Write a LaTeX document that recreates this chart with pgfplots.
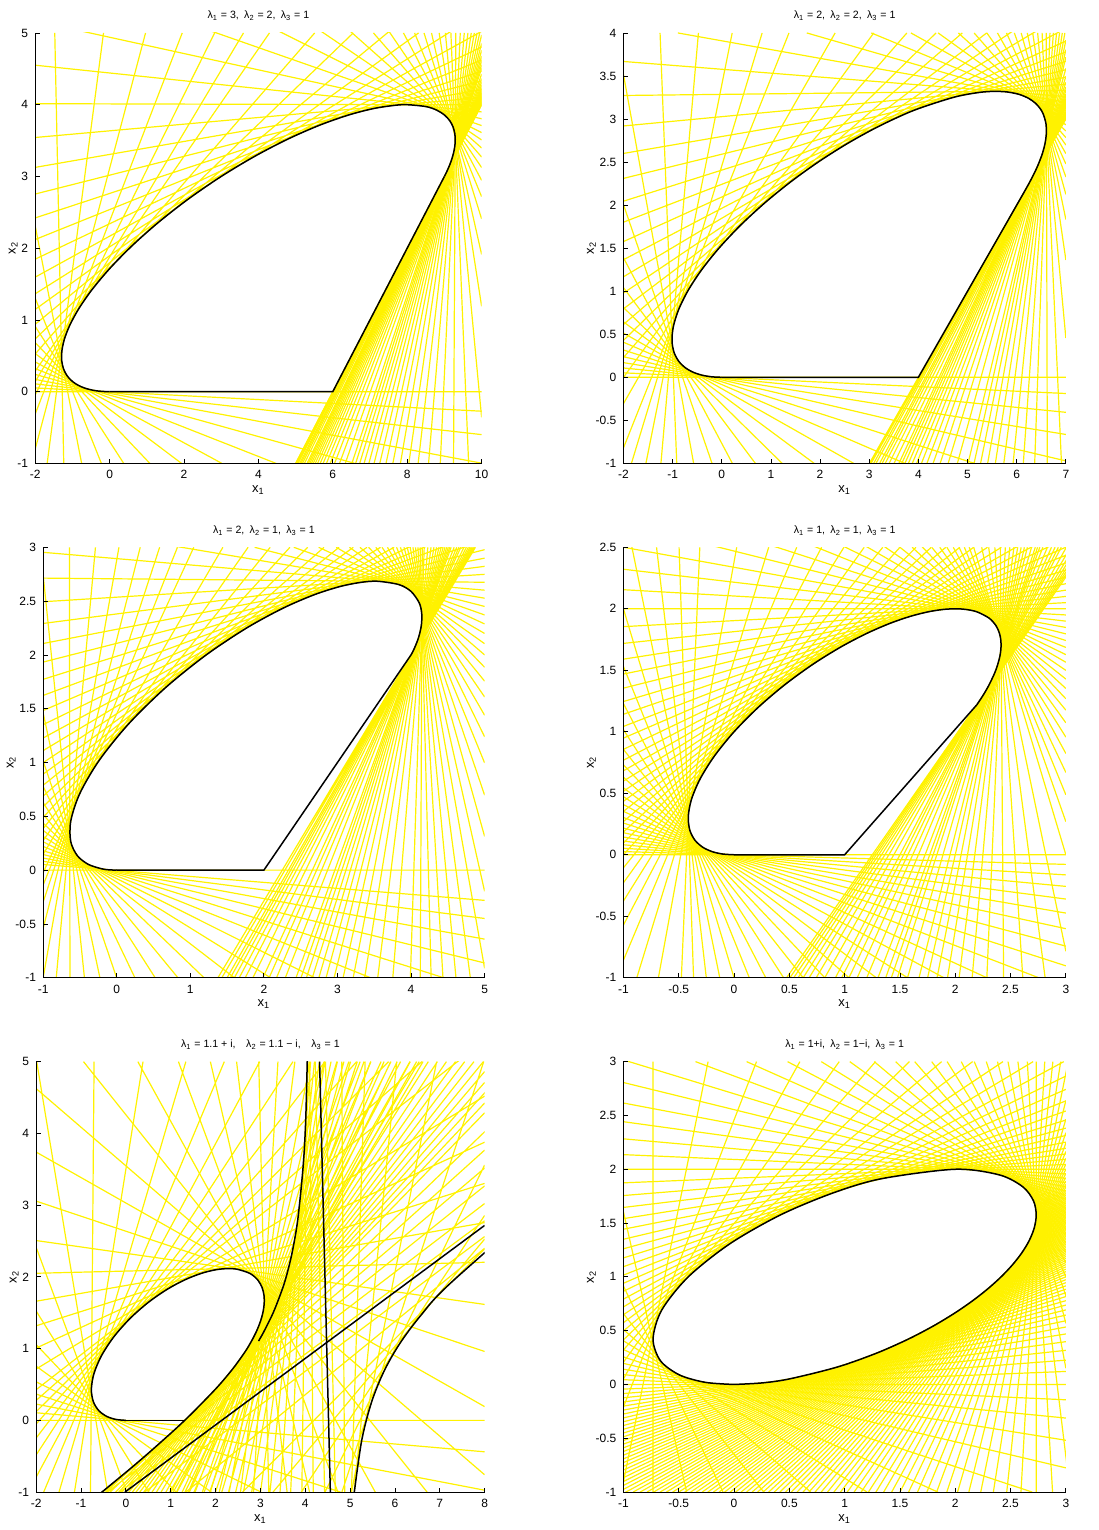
\documentclass[border=0pt]{standalone}
\usepackage{fontspec}
\setmainfont{Liberation Sans}
\usepackage{pgfplots}
\pgfplotsset{compat=1.18}

\pgfplotsset{
  panel/.style={
    anchor=south west, scale only axis, height=215.5pt,
    axis on top, clip=true,
    axis x line*=bottom, axis y line*=left,
    axis line style={black, line width=0.5pt},
    tick align=inside, major tick length=2.2pt,
    tick style={black, line width=0.4pt},
    tick label style={font=\fontsize{6}{7}\selectfont},
    /pgf/number format/assume math mode=true,
    label style={font=\fontsize{6.5}{7}\selectfont},
    title style={font=\fontsize{5.3}{6.5}\selectfont, yshift=-3.5pt},
    xlabel style={yshift=3.5pt},
    ylabel style={yshift=-7pt},
    unbounded coords=jump,
    xlabel={x\textsubscript{1}}, ylabel={x\textsubscript{2}},
  },
  fan/.style={yellow, line width=0.6pt},
  env/.style={black, line width=0.75pt},
}

\begin{document}
\begin{tikzpicture}
\path (0,0) rectangle (549.5pt,765pt);

% ---------------- lambda = 3, 2, 1 ----------------
\begin{axis}[panel, at={(17pt,533pt)}, width=223.5pt,
  xmin=-2, xmax=10, ymin=-1, ymax=5,
  xtick={-2,0,...,10}, ytick={-1,0,...,5},
  title={λ\textsubscript{1} = 3,\enspace λ\textsubscript{2} = 2,\enspace λ\textsubscript{3} = 1}]
\addplot[fan] coordinates {
(-2,0) (10,0) (nan,nan)
(-2,0.1086) (10,-0.5988) (nan,nan)
(-2,0.2407) (6.592,-1) (nan,nan)
(-2,0.4149) (3.0188,-1) (nan,nan)
(-2,0.6848) (1.0831,-1) (nan,nan)
(-2,1.3034) (-0.2206,-1) (nan,nan)
(-1.2318,-1) (-1.4735,5) (nan,nan)
(-2.1018,-1) (0.9664,5) (nan,nan)
(-2.9125,-1) (2.8229,5) (nan,nan)
(-2,0.2857) (4.2974,5) (nan,nan)
(-2,0.5245) (5.5128,5) (nan,nan)
(-2,0.7349) (6.5494,5) (nan,nan)
(-2,0.9387) (10,6.0876) (nan,nan)
(-2,1.1463) (8.3051,5) (nan,nan)
(-2,1.3639) (10,5.2915) (nan,nan)
(-2,1.5961) (10,5.0225) (nan,nan)
(-2,1.847) (10,4.8044) (nan,nan)
(-2,2.1207) (10,4.6226) (nan,nan)
(-2,2.4216) (10,4.4671) (nan,nan)
(-2,2.7547) (10,4.3315) (nan,nan)
(-2,3.1261) (10,4.2103) (nan,nan)
(-2,4.0139) (10,3.9972) (nan,nan)
(-2,5.1674) (10,3.8042) (nan,nan)
(-2,6.7228) (10,3.6115) (nan,nan)
(-2,8.9257) (10,3.3968) (nan,nan)
(-2,12.271) (10,3.1243) (nan,nan)
(8.199,5) (10,2.7176) (nan,nan)
(8.6534,5) (10,1.9128) (nan,nan)
(9.0262,5) (10,-0.3582) (nan,nan)
(9.2454,-1) (9.3067,5) (nan,nan)
(8.5741,-1) (9.534,5) (nan,nan)
(8.043,-1) (9.7216,5) (nan,nan)
(7.6142,-1) (9.879,5) (nan,nan)
(7.2622,-1) (10,4.9723) (nan,nan)
(6.9693,-1) (10,4.7582) (nan,nan)
(6.723,-1) (10,4.6126) (nan,nan)
(6.5138,-1) (10,4.5069) (nan,nan)
(6.1804,-1) (10,4.3637) (nan,nan)
(5.9303,-1) (10,4.2714) (nan,nan)
(5.7391,-1) (10,4.2077) (nan,nan)
(5.5908,-1) (10,4.1617) (nan,nan)
(5.4745,-1) (10,4.1273) (nan,nan)
(5.3826,-1) (10,4.1011) (nan,nan)
(5.3094,-1) (10,4.0809) (nan,nan)
(5.1836,-1) (10,4.0471) (nan,nan)
(5.1099,-1) (10,4.0279) (nan,nan)
(5.0399,-1) (10,4.01) (nan,nan)
(5.0054,-1) (10,4.0013)
};
\addplot[fan] coordinates {
(-2,0.052) (10,-0.2725) (nan,nan)
(-2,0.1709) (10,-0.9966) (nan,nan)
(-2,0.3206) (4.4755,-1) (nan,nan)
(-2,0.5313) (1.9359,-1) (nan,nan)
(-2,0.9095) (0.3804,-1) (nan,nan)
(-2,2.3112) (-0.7509,-1) (nan,nan)
(-1.6784,-1) (-0.1634,5) (nan,nan)
(-2,-0.3133) (1.9524,5) (nan,nan)
(-2,0.1397) (3.599,5) (nan,nan)
(-2,3.5428) (10,4.1) (nan,nan)
(-2,4.5506) (10,3.8995) (nan,nan)
(-2,5.883) (10,3.709) (nan,nan)
(-2,7.721) (10,3.5086) (nan,nan)
(7.0926,5) (10,3.271) (nan,nan)
(7.8999,5) (10,2.9458) (nan,nan)
(8.4522,5) (10,2.4074) (nan,nan)
(8.8593,5) (10,1.1902) (nan,nan)
(9.1742,5) (9.651,-1) (nan,nan)
(8.889,-1) (9.426,5) (nan,nan)
(8.2938,-1) (9.6321,5) (nan,nan)
(7.8176,-1) (9.8036,5) (nan,nan)
(7.4299,-1) (9.9485,5) (nan,nan)
(7.1093,-1) (10,4.854) (nan,nan)
(6.841,-1) (10,4.6791) (nan,nan)
(6.6142,-1) (10,4.5559) (nan,nan)
(6.3347,-1) (10,4.4267) (nan,nan)
(6.0468,-1) (10,4.3131) (nan,nan)
(5.8285,-1) (10,4.2369) (nan,nan)
(5.6604,-1) (10,4.1829) (nan,nan)
(5.5292,-1) (10,4.1433) (nan,nan)
(5.4259,-1) (10,4.1133) (nan,nan)
(5.3439,-1) (10,4.0903) (nan,nan)
(5.238,-1) (10,4.0615) (nan,nan)
(5.142,-1) (10,4.0362) (nan,nan)
(5.0662,-1) (10,4.0167) (nan,nan)
(5.0147,-1) (10,4.0037) (nan,nan)
(5.0002,-1) (10,4.0001)
};
\addplot[env, smooth] coordinates {
(0,0) (-0.1211,0.0013) (-0.3061,0.0087) (-0.4617,0.0213) (-0.6164,0.0411)
(-0.7674,0.0698) (-0.9109,0.1093) (-1.0419,0.1621) (-1.1538,0.2308) (-1.2385,0.3185)
(-1.2857,0.4286) (-1.283,0.5645) (-1.2162,0.7297) (-1.0695,0.9269) (-0.8268,1.1575)
(-0.4737,1.4211) (0,1.7143) (0.5972,2.0304) (1.3107,2.3592) (2.1216,2.6873) (3,3)
(3.9082,3.2829) (4.8058,3.5243) (5.6557,3.7166) (6.4286,3.8571) (7.1053,3.9474)
(7.677,3.992) (8,4) (8.5135,3.973) (8.7947,3.9238) (9.0,3.857) (9.1416,3.7785)
(9.2308,3.6923) (9.2779,3.602) (9.2915,3.5101) (9.2791,3.4186) (9.2466,3.3288)
(9.1989,3.2415) (9.1399,3.1574) (9.0728,3.0769) (9,3)
};
\addplot[env] coordinates {(9,3) (6,0) (0,0)};
\end{axis}

% ---------------- lambda = 2, 2, 1 ----------------
\begin{axis}[panel, at={(311.5pt,533pt)}, width=221.5pt,
  xmin=-2, xmax=7, ymin=-1, ymax=4,
  xtick={-2,-1,...,7}, ytick={-1,-0.5,...,4},
  title={λ\textsubscript{1} = 2,\enspace λ\textsubscript{2} = 2,\enspace λ\textsubscript{3} = 1}]
\addplot[fan] coordinates {
(-2,0) (7,0) (nan,nan)
(-2,0.1085) (7,-0.4067) (nan,nan)
(-2,0.2396) (7,-0.9707) (nan,nan)
(-2,0.4076) (3.7238,-1) (nan,nan)
(-2,0.6445) (1.8802,-1) (nan,nan)
(-2,1.0416) (0.6849,-1) (nan,nan)
(-2,2.0075) (-0.1982,-1) (nan,nan)
(-0.9155,-1) (-1.2549,4) (nan,nan)
(-1.5429,-1) (0.2122,4) (nan,nan)
(-2,-0.8206) (1.3673,4) (nan,nan)
(-2,-0.3065) (2.3066,4) (nan,nan)
(-2,-0.0011) (3.092,4) (nan,nan)
(-2,0.2296) (3.7659,4) (nan,nan)
(-2,0.4284) (4.3585,4) (nan,nan)
(-2,0.6137) (4.8932,4) (nan,nan)
(-2,0.795) (5.3891,4) (nan,nan)
(-2,0.9782) (7,4.4367) (nan,nan)
(-2,1.1674) (7,4.226) (nan,nan)
(-2,1.3658) (7,4.0523) (nan,nan)
(-2,1.5765) (7,3.9059) (nan,nan)
(-2,1.802) (7,3.7802) (nan,nan)
(-2,2.3105) (7,3.5731) (nan,nan)
(-2,2.9196) (7,3.4054) (nan,nan)
(-2,3.6687) (7,3.2613) (nan,nan)
(1.7303,4) (7,3.1295) (nan,nan)
(3.848,4) (7,3.0) (nan,nan)
(4.8129,4) (7,2.8618) (nan,nan)
(5.3927,4) (7,2.6983) (nan,nan)
(5.7925,4) (7,2.4784) (nan,nan)
(6.0911,4) (7,2.1249) (nan,nan)
(6.3257,4) (7,1.3632) (nan,nan)
(6.9108,-1) (6.5166,4) (nan,nan)
(6.3656,-1) (6.6758,4) (nan,nan)
(5.9263,-1) (6.8112,4) (nan,nan)
(5.5655,-1) (6.9278,4) (nan,nan)
(5.2645,-1) (7,3.9164) (nan,nan)
(5.01,-1) (7,3.7181) (nan,nan)
(4.6049,-1) (7,3.4958) (nan,nan)
(4.2991,-1) (7,3.371) (nan,nan)
(4.0623,-1) (7,3.2898) (nan,nan)
(3.8753,-1) (7,3.2322) (nan,nan)
(3.7254,-1) (7,3.1892) (nan,nan)
(3.6039,-1) (7,3.1559) (nan,nan)
(3.5044,-1) (7,3.1296) (nan,nan)
(3.3249,-1) (7,3.0833) (nan,nan)
(3.211,-1) (7,3.0545) (nan,nan)
(3.0897,-1) (7,3.0237) (nan,nan)
(3.0379,-1) (7,3.0103) (nan,nan)
(3.0158,-1) (7,3.0044)
};
\addplot[fan] coordinates {
(-2,0.052) (7,-0.1881) (nan,nan)
(-2,0.1706) (7,-0.6638) (nan,nan)
(-2,0.3176) (5.1395,-1) (nan,nan)
(-2,0.514) (2.6851,-1) (nan,nan)
(-2,0.8119) (1.2294,-1) (nan,nan)
(-2,1.3892) (0.2159,-1) (nan,nan)
(-2,3.5202) (-0.5718,-1) (nan,nan)
(-1.2372,-1) (-0.4744,4) (nan,nan)
(-1.8376,-1) (0.8217,4) (nan,nan)
(-2,2.0456) (7,3.6705) (nan,nan)
(-2,2.6003) (7,3.4855) (nan,nan)
(-2,3.2736) (7,3.3312) (nan,nan)
(-0.8929,4) (7,3.1945) (nan,nan)
(3.0429,4) (7,3.0651) (nan,nan)
(4.4022,4) (7,2.9328) (nan,nan)
(5.1333,4) (7,2.7846) (nan,nan)
(5.6088,4) (7,2.5985) (nan,nan)
(5.9516,4) (7,2.327) (nan,nan)
(6.2149,4) (7,1.8331) (nan,nan)
(6.4257,4) (7,0.4544) (nan,nan)
(6.6228,-1) (6.5996,4) (nan,nan)
(6.1346,-1) (6.7462,4) (nan,nan)
(5.7374,-1) (6.8716,4) (nan,nan)
(5.4084,-1) (6.9804,4) (nan,nan)
(5.1321,-1) (7,3.8054) (nan,nan)
(4.7925,-1) (7,3.5883) (nan,nan)
(4.4419,-1) (7,3.4259) (nan,nan)
(4.1735,-1) (7,3.3266) (nan,nan)
(3.9635,-1) (7,3.2588) (nan,nan)
(3.7963,-1) (7,3.2093) (nan,nan)
(3.6616,-1) (7,3.1716) (nan,nan)
(3.4042,-1) (7,3.1035) (nan,nan)
(3.2617,-1) (7,3.0673) (nan,nan)
(3.1375,-1) (7,3.036) (nan,nan)
(3.0027,-1) (7,3.0008)
};
\addplot[env, smooth] coordinates {
(0,0) (-0.1993,0.0054) (-0.3937,0.0236) (-0.5771,0.0577) (-0.7413,0.111)
(-0.8764,0.1873) (-0.971,0.2899) (-1.012,0.4217) (-0.9867,0.5844) (-0.8833,0.778)
(-0.6935,1.0) (-0.4139,1.2452) (-0.0481,1.506) (0.3935,1.7728) (0.8939,2.0354)
(1.4324,2.2838) (1.9865,2.5101) (2.5354,2.7087) (3.0616,2.8767) (3.5525,3.0136)
(4.0,3.1208) (4.7526,3.2578) (5.3228,3.3149) (5.7388,3.3184) (6.0346,3.2889)
(6.2409,3.2409) (6.3819,3.1834) (6.4763,3.1225) (6.5372,3.0615) (6.5952,2.9464)
(6.6019,2.8214) (6.577,2.718) (6.5402,2.633) (6.5007,2.5629) (6.4267,2.456)
(6.3653,2.3798) (6.2769,2.2808) (6.1811,2.1814) (6.1176,2.1176)
};
\addplot[env] coordinates {(6.1176,2.1176) (4,0) (0,0)};
\end{axis}

% ---------------- lambda = 2, 1, 1 ----------------
\begin{axis}[panel, at={(21pt,275.5pt)}, width=221pt,
  xmin=-1, xmax=5, ymin=-1, ymax=3,
  xtick={-1,0,...,5}, ytick={-1,-0.5,...,3},
  title={λ\textsubscript{1} = 2,\enspace λ\textsubscript{2} = 1,\enspace λ\textsubscript{3} = 1}]
\addplot[fan] coordinates {
(-1,0) (5,0) (nan,nan)
(-1,0.0527) (5,-0.2809) (nan,nan)
(-1,0.1121) (5,-0.6413) (nan,nan)
(-1,0.1808) (4.4439,-1) (nan,nan)
(-1,0.2634) (2.6915,-1) (nan,nan)
(-1,0.3691) (1.5988,-1) (nan,nan)
(-1,0.5193) (0.8318,-1) (nan,nan)
(-1,0.7778) (0.2468,-1) (nan,nan)
(-1,1.4606) (-0.2289,-1) (nan,nan)
(-0.636,-1) (-0.6435,3) (nan,nan)
(-1.0,-1) (0.0299,3) (nan,nan)
(-1,-0.2968) (0.5832,3) (nan,nan)
(-1,-0.0232) (1.0472,3) (nan,nan)
(-1,0.1458) (1.4428,3) (nan,nan)
(-1,0.2753) (1.7854,3) (nan,nan)
(-1,0.3868) (2.0862,3) (nan,nan)
(-1,0.49) (2.3541,3) (nan,nan)
(-1,0.5897) (2.5958,3) (nan,nan)
(-1,0.6888) (2.8168,3) (nan,nan)
(-1,0.7891) (3.022,3) (nan,nan)
(-1,0.8922) (3.2155,3) (nan,nan)
(-1,1.1108) (3.585,3) (nan,nan)
(-1,1.352) (5,3.344) (nan,nan)
(-1,1.6235) (5,3.1478) (nan,nan)
(-1,1.9335) (5,2.9779) (nan,nan)
(-1,2.2923) (5,2.8231) (nan,nan)
(-1,2.7137) (5,2.6752) (nan,nan)
(-1,3.216) (5,2.527) (nan,nan)
(2.4058,3) (5,2.3712) (nan,nan)
(2.9827,3) (5,2.1993) (nan,nan)
(3.3055,3) (5,2.0) (nan,nan)
(3.5208,3) (5,1.7562) (nan,nan)
(3.6794,3) (5,1.4394) (nan,nan)
(3.8033,3) (5,0.9965) (nan,nan)
(3.9042,3) (5,0.3131) (nan,nan)
(3.9887,3) (5,-0.9127) (nan,nan)
(4.6109,-1) (4.061,3) (nan,nan)
(4.2732,-1) (4.1237,3) (nan,nan)
(3.9912,-1) (4.1789,3) (nan,nan)
(3.5472,-1) (4.2717,3) (nan,nan)
(3.2137,-1) (4.3469,3) (nan,nan)
(2.9543,-1) (4.4093,3) (nan,nan)
(2.747,-1) (4.4617,3) (nan,nan)
(2.5777,-1) (4.5064,3) (nan,nan)
(2.437,-1) (4.5449,3) (nan,nan)
(2.1718,-1) (4.6212,3) (nan,nan)
(1.9866,-1) (4.6771,3) (nan,nan)
(1.8505,-1) (4.7196,3) (nan,nan)
(1.7466,-1) (4.7528,3) (nan,nan)
(1.5991,-1) (4.8008,3) (nan,nan)
(1.4997,-1) (4.8336,3) (nan,nan)
(1.4285,-1) (4.8572,3) (nan,nan)
(1.375,-1) (4.875,3)
};
\addplot[fan] coordinates {
(-1,0.0815) (5,-0.4492) (nan,nan)
(-1,0.1451) (5,-0.8626) (nan,nan)
(-1,0.2199) (3.4494,-1) (nan,nan)
(-1,0.3124) (2.0904,-1) (nan,nan)
(-1,0.4364) (1.186,-1) (nan,nan)
(-1,0.6271) (0.5221,-1) (nan,nan)
(-1,1.0136) (-0.0017,-1) (nan,nan)
(-1,2.7425) (-0.4392,-1) (nan,nan)
(-0.8222,-1) (-0.2894,3) (nan,nan)
(-1,-0.5404) (0.3194,3) (nan,nan)
(-1,-0.1388) (0.8249,3) (nan,nan)
(-1,0.9991) (3.4018,3) (nan,nan)
(-1,1.2281) (3.7701,3) (nan,nan)
(-1,1.4835) (5,3.2418) (nan,nan)
(-1,1.7731) (5,3.0603) (nan,nan)
(-1,2.106) (5,2.8991) (nan,nan)
(-1,2.4941) (5,2.7487) (nan,nan)
(-1,2.9533) (5,2.6016) (nan,nan)
(1.8743,3) (5,2.4505) (nan,nan)
(2.744,3) (5,2.2879) (nan,nan)
(3.1628,3) (5,2.104) (nan,nan)
(3.4224,3) (5,1.8851) (nan,nan)
(3.6055,3) (5,1.6094) (nan,nan)
(3.7448,3) (5,1.2388) (nan,nan)
(3.8561,3) (5,0.6966) (nan,nan)
(3.9482,3) (5,-0.197) (nan,nan)
(4.806,-1) (4.0262,3) (nan,nan)
(4.4341,-1) (4.0934,3) (nan,nan)
(4.1261,-1) (4.1521,3) (nan,nan)
(3.7523,-1) (4.2278,3) (nan,nan)
(3.3695,-1) (4.3111,3) (nan,nan)
(3.0764,-1) (4.3795,3) (nan,nan)
(2.8452,-1) (4.4365,3) (nan,nan)
(2.6583,-1) (4.485,3) (nan,nan)
(2.5043,-1) (4.5264,3) (nan,nan)
(2.2916,-1) (4.5862,3) (nan,nan)
(2.0716,-1) (4.6512,3) (nan,nan)
(1.6649,-1) (4.7792,3) (nan,nan)
(1.5449,-1) (4.8187,3)
};
\addplot[env, smooth] coordinates {
(0,0) (-0.0998,0.0027) (-0.1981,0.0114) (-0.3827,0.0521) (-0.5342,0.133)
(-0.6254,0.2655) (-0.6245,0.4585) (-0.5008,0.7141) (-0.2362,1.0224) (0.1633,1.3606)
(0.6647,1.6968) (1.2156,2.0) (1.7616,2.2487) (2.2611,2.4347) (2.6907,2.5611)
(3.044,2.6373) (3.3251,2.6749) (3.5436,2.6845) (3.8367,2.6532) (4.0,2.5901)
(4.1116,2.4838) (4.1452,2.3873) (4.142,2.284) (4.1149,2.1915) (4.0859,2.1288)
(4.0433,2.0578) (4.0092,2.0111) (4.0007,2.0008)
};
\addplot[env] coordinates {(4.0007,2.0008) (2,0) (0,0)};
\end{axis}

% ---------------- lambda = 1, 1, 1 ----------------
\begin{axis}[panel, at={(311.5pt,275.5pt)}, width=221.5pt,
  xmin=-1, xmax=3, ymin=-1, ymax=2.5,
  xtick={-1,-0.5,...,3}, ytick={-1,-0.5,...,2.5},
  title={λ\textsubscript{1} = 1,\enspace λ\textsubscript{2} = 1,\enspace λ\textsubscript{3} = 1}]
\addplot[fan] coordinates {
(-1,0) (3,0) (nan,nan)
(-1,0.0527) (3,-0.1637) (nan,nan)
(-1,0.1118) (3,-0.3602) (nan,nan)
(-1,0.1793) (3,-0.6011) (nan,nan)
(-1,0.2581) (3,-0.9032) (nan,nan)
(-1,0.3529) (3,-1.2941) (nan,nan)
(-1,0.4719) (3,-1.8202) (nan,nan)
(-1,0.6298) (1.039,-1) (nan,nan)
(-1,0.8571) (0.625,-1) (nan,nan)
(-1,1.2298) (0.2867,-1) (nan,nan)
(-1,2.0) (0,-1) (nan,nan)
(-0.7006,2.5) (-0.2508,-1) (nan,nan)
(-0.4762,-1) (-0.3095,2.5) (nan,nan)
(-0.6838,-1) (0.0242,2.5) (nan,nan)
(-0.8791,-1) (0.3132,2.5) (nan,nan)
(-1,-0.8571) (0.5667,2.5) (nan,nan)
(-1,-0.5714) (0.7917,2.5) (nan,nan)
(-1,-0.3764) (0.9936,2.5) (nan,nan)
(-1,-0.2278) (1.1768,2.5) (nan,nan)
(-1,-0.1058) (1.3446,2.5) (nan,nan)
(-1,0) (1.5,2.5) (nan,nan)
(-1,0.1849) (1.7828,2.5) (nan,nan)
(-1,0.3529) (2.0417,2.5) (nan,nan)
(-1,0.5166) (2.2912,2.5) (nan,nan)
(-1,0.6829) (3,2.7317) (nan,nan)
(-1,0.8571) (3,2.5714) (nan,nan)
(-1,1.0435) (3,2.4348) (nan,nan)
(-1,1.2461) (3,2.3141) (nan,nan)
(-1,1.4694) (3,2.2041) (nan,nan)
(-1,1.7186) (3,2.1005) (nan,nan)
(-1,2) (3,2) (nan,nan)
(-1,2.3216) (3,1.8995) (nan,nan)
(-1,2.6939) (3,1.7959) (nan,nan)
(-1,3.1309) (3,1.6859) (nan,nan)
(-1,3.6522) (3,1.5652) (nan,nan)
(-1,4.2857) (3,1.4286) (nan,nan)
(-1,5.0732) (3,1.2683) (nan,nan)
(1.8598,2.5) (3,1.0728) (nan,nan)
(1.9821,2.5) (3,0.8235) (nan,nan)
(2.0824,2.5) (3,0.4874) (nan,nan)
(2.1667,2.5) (3,0) (nan,nan)
(2.8125,-1) (2.3021,2.5) (nan,nan)
(2.437,-1) (2.4076,2.5) (nan,nan)
(2.1528,-1) (2.4931,2.5) (nan,nan)
(1.9298,-1) (2.5643,2.5) (nan,nan)
(1.75,-1) (2.625,2.5) (nan,nan)
(1.5686,-1) (2.6895,2.5) (nan,nan)
(1.4222,-1) (2.7444,2.5) (nan,nan)
(1.3014,-1) (2.7919,2.5) (nan,nan)
(1.2,-1) (2.8333,2.5) (nan,nan)
(1.039,-1) (2.9026,2.5) (nan,nan)
(0.9167,-1) (2.9583,2.5) (nan,nan)
(0.8205,-1) (3.0043,2.5) (nan,nan)
(0.7429,-1) (3.0429,2.5) (nan,nan)
(0.625,-1) (3.1042,2.5) (nan,nan)
(0.5397,-1) (3.1508,2.5) (nan,nan)
(0.475,-1) (3.1875,2.5)
};
\addplot[fan] coordinates {
(-1,0.0256) (3,-0.0783) (nan,nan)
(-1,0.0813) (3,-0.2572) (nan,nan)
(-1,0.1443) (3,-0.4742) (nan,nan)
(-1,0.217) (3,-0.7431) (nan,nan)
(-1,0.3031) (2.7543,-1) (nan,nan)
(-1,0.4087) (1.8972,-1) (nan,nan)
(-1,0.5446) (1.2859,-1) (nan,nan)
(-1,0.7317) (0.8205,-1) (nan,nan)
(-1,1.0169) (0.4482,-1) (nan,nan)
(-1,1.5317) (0.138,-1) (nan,nan)
(-1,2.8399) (-0.1291,-1) (nan,nan)
(-0.3661,-1) (-0.4969,2.5) (nan,nan)
(-1,0.0957) (1.6454,2.5) (nan,nan)
(-1,0.2701) (1.9143,2.5) (nan,nan)
(-1,0.4348) (2.1667,2.5) (nan,nan)
(-1,0.599) (2.4174,2.5) (nan,nan)
(-1,0.7688) (3,2.648) (nan,nan)
(-1,0.9485) (3,2.5007) (nan,nan)
(-1,1.1425) (3,2.3728) (nan,nan)
(-1,1.3548) (3,2.2581) (nan,nan)
(-1,1.5904) (3,2.1517) (nan,nan)
(-1,1.8548) (3,2.05) (nan,nan)
(-1,2.1552) (3,1.9499) (nan,nan)
(-1,2.5006) (3,1.8483) (nan,nan)
(-1,2.9032) (3,1.7419) (nan,nan)
(-1,3.3795) (3,1.6272) (nan,nan)
(-1,3.9527) (3,1.4993) (nan,nan)
(1.6105,2.5) (3,1.352) (nan,nan)
(1.7874,2.5) (3,1.1759) (nan,nan)
(1.9242,2.5) (3,0.9565) (nan,nan)
(2.0346,2.5) (3,0.6693) (nan,nan)
(2.1262,2.5) (3,0.2688) (nan,nan)
(2.239,2.5) (3,-0.7848) (nan,nan)
(2.6107,-1) (2.3578,2.5) (nan,nan)
(2.2857,-1) (2.4524,2.5) (nan,nan)
(2.035,-1) (2.5302,2.5) (nan,nan)
(1.8354,-1) (2.5958,2.5) (nan,nan)
(1.6725,-1) (2.6522,2.5) (nan,nan)
(1.4773,-1) (2.7235,2.5) (nan,nan)
(1.3712,-1) (2.7642,2.5) (nan,nan)
(1.1136,-1) (2.87,2.5) (nan,nan)
(0.9739,-1) (2.9319,2.5) (nan,nan)
(0.6788,-1) (3.0758,2.5) (nan,nan)
(0.5792,-1) (3.129,2.5) (nan,nan)
(0.5053,-1) (3.1702,2.5)
};
\addplot[env, smooth] coordinates {
(0,0) (-0.0994,0.0055) (-0.1951,0.0244) (-0.2819,0.0604) (-0.3529,0.1176)
(-0.4,0.2) (-0.4138,0.3103) (-0.3853,0.4495) (-0.3077,0.6154) (-0.1782,0.802)
(0,1) (0.2178,1.198) (0.4615,1.3846) (0.7156,1.5505) (0.9655,1.6897) (1.2,1.8)
(1.4118,1.8824) (1.5973,1.9396) (1.7561,1.9756) (1.8895,1.9945) (2,2) (2.0905,1.9955)
(2.1951,1.9756) (2.3077,1.9231) (2.3692,1.8615) (2.4,1.8) (2.4124,1.7423)
(2.4138,1.6897) (2.4088,1.6423) (2.4,1.6) (2.3774,1.5283) (2.3529,1.4706)
(2.3077,1.3846) (2.2703,1.3243) (2.24,1.28) (2.1951,1.2195)
};
\addplot[env] coordinates {(2.1951,1.2195) (1,0) (0,0)};
\end{axis}

% ---------------- lambda = 1.1 +/- i, 1 ----------------
\begin{axis}[panel, at={(17.5pt,18pt)}, width=224.5pt,
  xmin=-2, xmax=8, ymin=-1, ymax=5,
  xtick={-2,-1,...,8}, ytick={-1,0,...,5},
  title={λ\textsubscript{1} = 1.1 + i,\quad λ\textsubscript{2} = 1.1 − i,\quad λ\textsubscript{3} = 1}]
\addplot[fan] coordinates {
(-2,0) (8,0) (nan,nan)
(-2,0.2259) (8,-0.9738) (nan,nan)
(-2,0.5367) (3.0155,-1) (nan,nan)
(-2,1.0559) (1.1188,-1) (nan,nan)
(-2,2.4115) (0.0209,-1) (nan,nan)
(-0.7885,-1) (-0.7089,5) (nan,nan)
(-1.491,-1) (1.3376,5) (nan,nan)
(-2,-0.7904) (2.9843,5) (nan,nan)
(-2,-0.2457) (4.4404,5) (nan,nan)
(-2,0.121) (5.859,5) (nan,nan)
(-2,0.4276) (8,5.2945) (nan,nan)
(-2,1.0077) (8,3.877) (nan,nan)
(-2,1.6606) (8,2.7559) (nan,nan)
(-2,2.5061) (8,1.6159) (nan,nan)
(-2,3.7394) (8,0.1913) (nan,nan)
(-0.9447,5) (6.7178,-1) (nan,nan)
(1.172,5) (4.7284,-1) (nan,nan)
(2.469,5) (3.5954,-1) (nan,nan)
(3.391,5) (2.8469,-1) (nan,nan)
(4.1092,5) (2.304,-1) (nan,nan)
(4.7053,5) (1.8841,-1) (nan,nan)
(5.2235,5) (1.5432,-1) (nan,nan)
(5.6911,5) (1.256,-1) (nan,nan)
(6.1259,5) (1.0067,-1) (nan,nan)
(6.5411,5) (0.7849,-1) (nan,nan)
(6.9467,5) (0.5837,-1) (nan,nan)
(7.3512,5) (0.3983,-1) (nan,nan)
(7.762,5) (0.2256,-1) (nan,nan)
(8,4.8617) (0.0637,-1) (nan,nan)
(8.6342,5) (-0.0877,-1) (nan,nan)
(8,4.2861) (-0.2275,-1) (nan,nan)
(9.6263,5) (-0.3517,-1) (nan,nan)
(8,3.7666) (-0.4529,-1) (nan,nan)
(8,3.5159) (-0.5168,-1) (nan,nan)
(8,3.2677) (-0.5182,-1) (nan,nan)
(8,3.0217) (-0.4143,-1) (nan,nan)
(8,2.782) (-0.1353,-1) (nan,nan)
(8,2.5619) (0.4173,-1) (nan,nan)
(8,2.3978) (1.338,-1) (nan,nan)
(8,2.391) (2.6016,-1) (nan,nan)
(8,2.5265) (3.281,-1) (nan,nan)
(8,2.8564) (3.9144,-1) (nan,nan)
(8,3.5589) (4.4409,-1) (nan,nan)
(7.9796,5) (4.8179,-1) (nan,nan)
(6.9303,5) (5.031,-1) (nan,nan)
(6.0405,5) (5.0922,-1) (nan,nan)
(4.8136,5) (4.8797,-1) (nan,nan)
(4.2216,5) (4.4321,-1) (nan,nan)
(4.0499,5) (3.924,-1) (nan,nan)
(4.0629,5) (3.6755,-1) (nan,nan)
(4.119,5) (3.4378,-1) (nan,nan)
(4.3154,5) (3.002,-1) (nan,nan)
(4.5748,5) (2.6205,-1) (nan,nan)
(4.8624,5) (2.2885,-1) (nan,nan)
(5.1605,5) (1.9988,-1) (nan,nan)
(5.4602,5) (1.7444,-1) (nan,nan)
(5.7574,5) (1.5193,-1) (nan,nan)
(6.0507,5) (1.3186,-1) (nan,nan)
(6.3402,5) (1.1387,-1) (nan,nan)
(6.6261,5) (0.9766,-1)
};
\addplot[fan] coordinates {
(-2,0.1058) (8,-0.4386) (nan,nan)
(-2,0.3663) (4.7867,-1) (nan,nan)
(-2,0.7548) (1.9043,-1) (nan,nan)
(-2,1.5234) (0.5152,-1) (nan,nan)
(-1.9882,5) (-0.4052,-1) (nan,nan)
(-1.1463,-1) (0.3821,5) (nan,nan)
(-1.8327,-1) (2.1954,5) (nan,nan)
(-2,-0.4814) (3.7258,5) (nan,nan)
(-2,-0.0504) (5.1456,5) (nan,nan)
(-2,0.2783) (6.6005,5) (nan,nan)
(-2,0.7157) (8,4.5192) (nan,nan)
(-2,1.3182) (8,3.3032) (nan,nan)
(-2,2.0502) (8,2.2033) (nan,nan)
(-2,3.0555) (8,0.9602) (nan,nan)
(-2,4.6243) (8,-0.7585) (nan,nan)
(0.2673,5) (5.5614,-1) (nan,nan)
(1.8847,5) (4.0956,-1) (nan,nan)
(2.963,5) (3.1877,-1) (nan,nan)
(3.7692,5) (2.5562,-1) (nan,nan)
(4.4192,5) (2.082,-1) (nan,nan)
(4.9722,5) (1.7057,-1) (nan,nan)
(5.4624,5) (1.394,-1) (nan,nan)
(5.9117,5) (1.1273,-1) (nan,nan)
(6.3355,5) (0.8928,-1) (nan,nan)
(6.7445,5) (0.6821,-1) (nan,nan)
(7.1485,5) (0.4892,-1) (nan,nan)
(7.5553,5) (0.3105,-1) (nan,nan)
(7.9725,5) (0.1433,-1) (nan,nan)
(8,4.7096) (-0.0134,-1) (nan,nan)
(8,4.4227) (-0.1592,-1) (nan,nan)
(5.3361,5) (5.0303,-1) (nan,nan)
(4.4513,5) (4.6718,-1) (nan,nan)
(4.0961,5) (4.1787,-1) (nan,nan)
(4.2063,5) (3.213,-1) (nan,nan)
(4.4399,5) (2.8046,-1) (nan,nan)
(4.7165,5) (2.4487,-1) (nan,nan)
(5.0109,5) (2.1388,-1) (nan,nan)
(5.3105,5) (1.8676,-1) (nan,nan)
(5.9046,5) (1.4162,-1) (nan,nan)
(6.4833,5) (1.0553,-1)
};
\addplot[env, smooth] coordinates {
(0,0) (-0.2192,0.0123) (-0.4257,0.0543) (-0.6018,0.1342) (-0.7248,0.2589)
(-0.7695,0.4317) (-0.7134,0.6494) (-0.5447,0.9003) (-0.2681,1.165) (0.093,1.4204)
(0.5034,1.646) (0.9251,1.8283) (1.3269,1.9623) (1.6882,2.0503) (1.9993,2.0986)
(2.2585,2.1154) (2.4692,2.1082) (2.7683,2.0476)
(2.9453,1.954) (3.0403,1.848) (3.0811,1.7394) (3.0856,1.6326) (3.0649,1.5289)
(3.026,1.4285) (2.9727,1.3305) (2.9073,1.2339) (2.8304,1.1375) (2.7417,1.0396)
(2.6395,0.9385) (2.3823,0.717) (2.0112,0.4439) (1.4013,0.0541) (0.9033,-0.2352)
(0.1215,-0.6616) (-1.3124,-1.3979)
};
\addplot[env] coordinates {(1.304,0) (0,0)};
\addplot[env] coordinates {(-0.02,-1) (8,2.717)};
\addplot[env, smooth] coordinates {
(9.629,3.229) (7.2273,1.9057) (6.5869,1.4705) (6.1185,1.0804) (5.7612,0.6912)
(5.4812,0.2588) (5.259,-0.2795) (5.0851,-1.0448)
};
\addplot[env] coordinates {(4.32,5) (4.56,-1)};
\addplot[env, smooth] coordinates {
(4.057,5.3406) (4.0119,4.2109) (3.955,3.5552) (3.8349,2.8049) (3.7183,2.3707)
(3.6067,2.0728) (3.4996,1.848) (3.291,1.5082) (3.0757,1.2344) (2.9591,1.1055)
};
\end{axis}

% ---------------- lambda = 1 +/- i, 1 ----------------
\begin{axis}[panel, at={(311.5pt,18pt)}, width=221.5pt,
  xmin=-1, xmax=3, ymin=-1, ymax=3,
  xtick={-1,-0.5,...,3}, ytick={-1,-0.5,...,3},
  title={λ\textsubscript{1} = 1+i,\enspace λ\textsubscript{2} = 1−i,\enspace λ\textsubscript{3} = 1}]
\addplot[fan] coordinates {
(-1,0) (3,0) (nan,nan)
(-1,0.0917) (3,-0.3121) (nan,nan)
(-1,0.1962) (3,-0.7749) (nan,nan)
(-1,0.3246) (1.843,-1) (nan,nan)
(-1,0.5099) (0.6934,-1) (nan,nan)
(-1,0.9146) (-0.0992,-1) (nan,nan)
(-0.7321,-1) (-0.7321,3) (nan,nan)
(-1.2957,-1) (0.2031,3) (nan,nan)
(-1,0.2069) (0.951,3) (nan,nan)
(-1,0.4142) (1.5858,3) (nan,nan)
(-1,0.5743) (2.157,3) (nan,nan)
(-1,0.7209) (2.7043,3) (nan,nan)
(-1,0.866) (3,2.866) (nan,nan)
(-1,1.0163) (3,2.6354) (nan,nan)
(-1,1.1761) (3,2.4575) (nan,nan)
(-1,1.3496) (3,2.3143) (nan,nan)
(-1,1.5411) (3,2.1947) (nan,nan)
(-1,1.7557) (3,2.0917) (nan,nan)
(-1,2) (3,2) (nan,nan)
(-1,2.2827) (3,1.916) (nan,nan)
(-1,2.6156) (3,1.8366) (nan,nan)
(-1,3.0161) (3,1.7588) (nan,nan)
(0.114,3) (3,1.6797) (nan,nan)
(0.789,3) (3,1.5952) (nan,nan)
(1.2679,3) (3,1.5) (nan,nan)
(1.6334,3) (3,1.3847) (nan,nan)
(1.9268,3) (3,1.2316) (nan,nan)
(2.1716,3) (3,1.0) (nan,nan)
(2.3818,3) (3,0.5684) (nan,nan)
(2.5666,3) (3.0391,-1) (nan,nan)
(2.7321,-1) (2.7321,3) (nan,nan)
(2.4654,-1) (2.8826,3) (nan,nan)
(2.2304,-1) (3.0214,3) (nan,nan)
(2.0207,-1) (3,2.4659) (nan,nan)
(1.8314,-1) (3,2.2428) (nan,nan)
(1.6588,-1) (3,2.1009) (nan,nan)
(1.5,-1) (3,2) (nan,nan)
(1.3527,-1) (3,1.9225) (nan,nan)
(1.2149,-1) (3,1.8598) (nan,nan)
(1.0852,-1) (3,1.807) (nan,nan)
(0.9622,-1) (3,1.7611) (nan,nan)
(0.8448,-1) (3,1.7202) (nan,nan)
(0.7321,-1) (3,1.683) (nan,nan)
(0.6232,-1) (3,1.6486) (nan,nan)
(0.5175,-1) (3,1.6164) (nan,nan)
(0.4142,-1) (3,1.5858) (nan,nan)
(0.3128,-1) (3,1.5564) (nan,nan)
(0.2127,-1) (3,1.5279) (nan,nan)
(0.1132,-1) (3,1.5) (nan,nan)
(0.014,-1) (3,1.4725) (nan,nan)
(-0.0856,-1) (3,1.4451) (nan,nan)
(-0.1862,-1) (3,1.4177) (nan,nan)
(-0.2883,-1) (3,1.3901) (nan,nan)
(-0.3927,-1) (3,1.362) (nan,nan)
(-0.5,-1) (3,1.3333) (nan,nan)
(-0.6112,-1) (3,1.3038) (nan,nan)
(-0.7271,-1) (3,1.2732) (nan,nan)
(-0.8491,-1) (3,1.2412) (nan,nan)
(-1,-1.0119) (3,1.2076) (nan,nan)
(-1,-0.9381) (3,1.172) (nan,nan)
(-1,-0.866) (3,1.134) (nan,nan)
(-1,-0.7954) (3,1.0931) (nan,nan)
(-1,-0.7257) (3,1.0487) (nan,nan)
(-1,-0.6569) (3,1.0) (nan,nan)
(-1,-0.5883) (3,0.9461) (nan,nan)
(-1,-0.5198) (3,0.8856) (nan,nan)
(-1,-0.451) (3,0.817) (nan,nan)
(-1,-0.3814) (3,0.7379) (nan,nan)
(-1,-0.3105) (3,0.6451) (nan,nan)
(-1,-0.2379) (3,0.5341) (nan,nan)
(-1,-0.1627) (3,0.3979) (nan,nan)
(-1,-0.0839) (3,0.2259)
};
\addplot[fan] coordinates {
(-1,0.0447) (3,-0.1423) (nan,nan)
(-1,0.1419) (3,-0.5183) (nan,nan)
(-1,0.2563) (2.6965,-1) (nan,nan)
(-1,0.4061) (1.2028,-1) (nan,nan)
(-1,0.6577) (0.2688,-1) (nan,nan)
(-1,1.605) (-0.4286,-1) (nan,nan)
(-1.0187,-1) (-0.2349,3) (nan,nan)
(-1,0.0514) (0.595,3) (nan,nan)
(-1,0.3206) (1.2791,3) (nan,nan)
(-1,0.4972) (1.8767,3) (nan,nan)
(-1,0.6483) (2.4312,3) (nan,nan)
(-1,0.7931) (2.9813,3) (nan,nan)
(-1,0.9402) (3,2.7425) (nan,nan)
(-1,1.0947) (3,2.5412) (nan,nan)
(-1,1.2609) (3,2.3824) (nan,nan)
(-1,1.4428) (3,2.2521) (nan,nan)
(-1,1.6451) (3,2.1415) (nan,nan)
(-1,1.8737) (3,2.0447) (nan,nan)
(-1,2.1359) (3,1.9573) (nan,nan)
(-1,2.4419) (3,1.8759) (nan,nan)
(-1,2.8061) (3,1.7977) (nan,nan)
(-0.3484,3) (3,1.7196) (nan,nan)
(0.4841,3) (3,1.6384) (nan,nan)
(1.0465,3) (3,1.5494) (nan,nan)
(1.4617,3) (3,1.4457) (nan,nan)
(1.7873,3) (3,1.3146) (nan,nan)
(2.0542,3) (3,1.13) (nan,nan)
(2.2803,3) (3,0.8243) (nan,nan)
(2.4769,3) (3,0.1514) (nan,nan)
(2.8798,-1) (2.6514,3) (nan,nan)
(2.5943,-1) (2.809,3) (nan,nan)
(2.3444,-1) (2.9533,3) (nan,nan)
(2.1227,-1) (3,2.6383) (nan,nan)
(1.9237,-1) (3,2.3398) (nan,nan)
(1.7432,-1) (3,2.1651) (nan,nan)
(1.5779,-1) (3,2.0467) (nan,nan)
(1.425,-1) (3,1.959) (nan,nan)
(1.2827,-1) (3,1.8897) (nan,nan)
(1.1491,-1) (3,1.8324) (nan,nan)
(1.0229,-1) (3,1.7833) (nan,nan)
(0.9028,-1) (3,1.7401) (nan,nan)
(0.7879,-1) (3,1.7012) (nan,nan)
(0.6772,-1) (3,1.6655) (nan,nan)
(0.57,-1) (3,1.6323) (nan,nan)
(0.4656,-1) (3,1.6009) (nan,nan)
(0.3633,-1) (3,1.571) (nan,nan)
(0.2626,-1) (3,1.542) (nan,nan)
(0.1629,-1) (3,1.5139) (nan,nan)
(0.0636,-1) (3,1.4862) (nan,nan)
(-0.0357,-1) (3,1.4588) (nan,nan)
(-0.1357,-1) (3,1.4315) (nan,nan)
(-0.237,-1) (3,1.4039) (nan,nan)
(-0.3402,-1) (3,1.3761) (nan,nan)
(-0.4459,-1) (3,1.3478) (nan,nan)
(-0.555,-1) (3,1.3187) (nan,nan)
(-0.6685,-1) (3,1.2886) (nan,nan)
(-0.7873,-1) (3,1.2573) (nan,nan)
(-0.9128,-1) (3,1.2246) (nan,nan)
(-1,-0.9747) (3,1.19) (nan,nan)
(-1,-0.9018) (3,1.1533) (nan,nan)
(-1,-0.8305) (3,1.1139) (nan,nan)
(-1,-0.7605) (3,1.0714) (nan,nan)
(-1,-0.6912) (3,1.0249) (nan,nan)
(-1,-0.6226) (3,0.9738) (nan,nan)
(-1,-0.5541) (3,0.9167) (nan,nan)
(-1,-0.4855) (3,0.8525) (nan,nan)
(-1,-0.4163) (3,0.7789) (nan,nan)
(-1,-0.3461) (3,0.6934) (nan,nan)
(-1,-0.2745) (3,0.5922) (nan,nan)
(-1,-0.2007) (3,0.4697) (nan,nan)
(-1,-0.1239) (3,0.3173) (nan,nan)
(-1,-0.0427) (3,0.1212)
};
\addplot[env, smooth] coordinates {
(0,0) (-0.2583,0.0195) (-0.4919,0.0879) (-0.6646,0.2195) (-0.7321,0.4226)
(-0.6539,0.6913) (-0.4142,1.0) (-0.0364,1.3087) (0.4226,1.5774) (0.8963,1.7805)
(1.3323,1.9121) (2,2) (2.4004,1.9473) (2.612,1.836) (2.7071,1.7071) (2.7321,1.5774)
(2.7136,1.4524) (2.6667,1.3333) (2.5991,1.2193) (2.5146,1.1087) (2.4142,1.0)
(2.2971,0.8913) (2.1605,0.7807) (2.0,0.6667) (1.8088,0.5476) (1.5774,0.4226)
(1.2929,0.2929) (0.94,0.164) (0.5058,0.0527) (0.2592,0.015) (0,0)
};
\end{axis}
\end{tikzpicture}
\end{document}
